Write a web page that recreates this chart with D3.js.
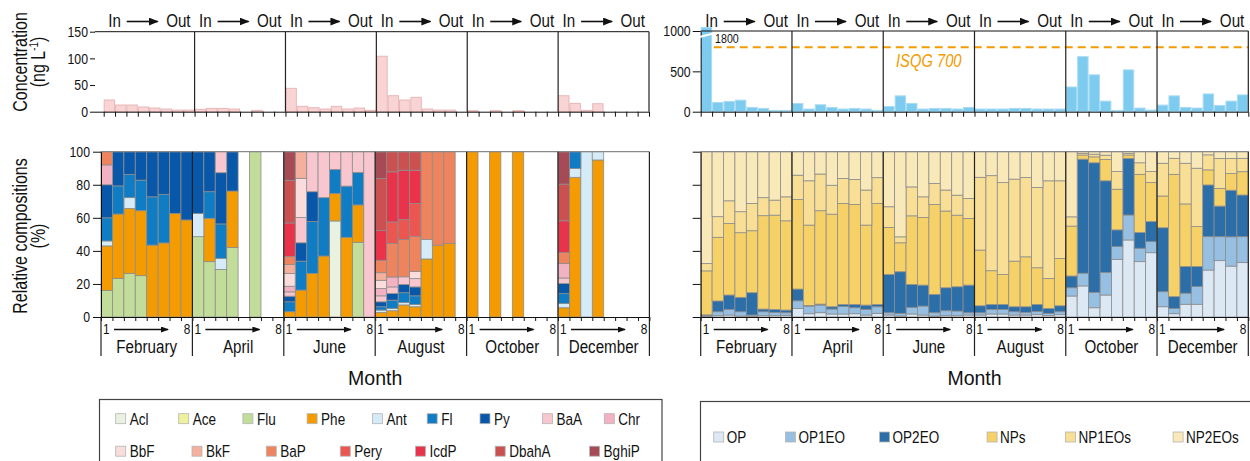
<!DOCTYPE html>
<html>
<head>
<meta charset="utf-8">
<script src="https://cdn.jsdelivr.net/npm/d3@7"></script>
<style>
  body { margin: 0; background: #fff; }
  svg text { font-family: "Liberation Sans", Arial, sans-serif; fill: #111; }
</style>
</head>
<body>
<svg id="chart" width="1250" height="461"></svg>
<script>
// ---- data ----
const months = ["February", "April", "June", "August", "October", "December"];
const sites = [1, 2, 3, 4, 5, 6, 7, 8];

const pahKeys = ["Acl", "Ace", "Flu", "Phe", "Ant", "Fl", "Py", "BaA", "Chr", "BbF", "BkF", "BaP", "Pery", "IcdP", "DbahA", "BghiP"];
const pahColors = ["#e9f2e1", "#eef29c", "#c2dc9a", "#f39b00", "#d5ecf8", "#0f7cc4", "#0857a8", "#f8c6ce", "#f3b2c3",
                   "#fbdcdc", "#f4b09c", "#ee845e", "#ec5650", "#e8334a", "#cb5150", "#a64b55"];
const opKeys = ["OP", "OP1EO", "OP2EO", "NPs", "NP1EOs", "NP2EOs"];
const opColors = ["#dce8f4", "#97bfe1", "#2b6ea8", "#f6d168", "#f8df95", "#f9e9b9"];

// PAH concentration, ng/L (one row per month, sites 1..8)
const pahConc = [
  [22, 12.5, 12.5, 8.8, 6.9, 5, 3, 3],
  [4.4, 6.2, 6.2, 5, 0, 2.5, 0, 0],
  [43.8, 10, 7.5, 5, 10, 5, 6.9, 2.5],
  [104, 30, 21.9, 26.9, 5, 3, 3, 0],
  [1.9, 0, 1.9, 0, 1.9, 0, 0, 0],
  [30, 15.6, 2.5, 15, 0, 0, 0, 0]
];
// alkylphenol concentration, ng/L
const apConc = [
  [1800, 114, 127, 143, 53, 41, 16, 16],
  [102, 33, 86, 53, 33, 41, 33, 16],
  [65, 196, 102, 33, 41, 41, 33, 53],
  [33, 33, 33, 41, 41, 33, 33, 33],
  [306, 682, 457, 131, 16, 518, 45, 20],
  [82, 196, 53, 45, 220, 78, 131, 208]
];
const isqg = 800;

// PAH composition, %
const pahFeb = [
  {Flu: 16, Phe: 27, Ant: 3, Fl: 14, Py: 20, Chr: 12, BaP: 8},
  {Flu: 23.4, Phe: 38.9, Fl: 17, Py: 20.7},
  {Flu: 26.4, Phe: 39.3, Ant: 6.5, Fl: 14.1, Py: 13.7},
  {Flu: 25, Phe: 39.3, Fl: 18.5, Py: 17.2},
  {Phe: 43.5, Fl: 29.2, Py: 27.3},
  {Phe: 44.8, Fl: 29.4, Py: 25.8},
  {Phe: 62.7, Py: 37.3},
  {Phe: 58.7, Py: 41.3}
];
const pahApr = [
  {Flu: 48.6, Ant: 14.1, Py: 37.3},
  {Flu: 33.5, Phe: 26.2, Fl: 16.1, Py: 24.2},
  {Flu: 28.8, Ant: 6.7, Fl: 20.8, Py: 31, BaA: 12.7},
  {Flu: 42.1, Phe: 34.1, Py: 23.8},
  {},
  {Flu: 100},
  {},
  {}
];
const pahJun = [
  {Phe: 3.2, Fl: 6, Py: 3.4, BaA: 2.6, Chr: 3.4, BbF: 7.7, BkF: 5.4, BaP: 5, IcdP: 20.2, DbahA: 25.8, BghiP: 17.3},
  {Phe: 16.3, Fl: 17.5, Py: 11.1, BaA: 15.3, BbF: 23.7, BkF: 16.1},
  {Phe: 26.4, Fl: 31.3, Py: 18.1, BaA: 24.2},
  {Phe: 36.9, Fl: 35.3, BaA: 27.8},
  {Acl: 58.1, Phe: 16.7, Fl: 14.5, BaA: 10.7},
  {Phe: 48.2, Fl: 31, BaA: 20.8},
  {Flu: 45.2, Phe: 22.6, Fl: 19.7, BaA: 12.5},
  {BaA: 100}
];
const pahAug = [
  {Phe: 2.8, Ant: 1.4, Fl: 2, Py: 3, BaA: 3.6, Chr: 4.4, BbF: 5, BkF: 4.6, BaP: 7.5, IcdP: 18.1, DbahA: 31.4, BghiP: 16.2},
  {Phe: 3.8, Ant: 1.4, Fl: 5, Py: 4, BaA: 4, Chr: 6, BaP: 20.2, Pery: 13.1, IcdP: 30.3, DbahA: 12.2},
  {Phe: 7.3, Ant: 1.4, Fl: 6, Py: 5, BaA: 4.6, BaP: 22.6, Pery: 12.1, IcdP: 29.8, DbahA: 11.2},
  {Phe: 6.2, Ant: 1.4, Fl: 5.2, Py: 5.4, BaA: 5, BbF: 4.4, BaP: 21.2, Pery: 19.8, IcdP: 20.2, DbahA: 11.2},
  {Phe: 35.1, Ant: 11.9, BaP: 53},
  {Phe: 43.5, BaP: 56.5},
  {Phe: 44.4, BaP: 55.6},
  {}
];
const pahOct = [{Phe: 100}, {}, {Phe: 100}, {}, {Phe: 100}, {}, {}, {}];
const pahDec = [
  {Phe: 5.6, Ant: 2.6, Fl: 6, Py: 6, BaA: 3.4, Chr: 8.7, BaP: 6.7, IcdP: 19.2, DbahA: 22.2, BghiP: 19.6},
  {Phe: 84.5, Ant: 5.4, Fl: 10.1},
  {Ant: 100},
  {Phe: 95, Ant: 5},
  {}, {}, {}, {}
];

// alkylphenol composition, % in opKeys order
const apFeb = [
  [0.5, 0.5, 0.3, 26.6, 4.4, 67.7], [0.8, 2.4, 6.5, 38.5, 12.5, 39.3], [1.2, 3.4, 8.7, 43.3, 13.7, 29.7],
  [0.6, 2.6, 8.7, 39.1, 12.7, 36.3], [0.4, 0.8, 13.5, 37.5, 16.5, 31.3], [0.8, 2.4, 1.6, 56.5, 10.9, 27.8],
  [0.8, 2, 1.8, 57, 9.1, 29.3], [1, 1.6, 1.6, 54, 14.5, 27.3]
];
const apApr = [
  [5.2, 4.6, 7.1, 54.2, 14.7, 14.2], [2, 4.6, 0.4, 48.6, 26.8, 17.6], [2.6, 4.6, 0.6, 56.5, 22.2, 13.5],
  [1.8, 3, 1.4, 56, 17.5, 20.3], [1.8, 4.6, 1.2, 61.1, 15.1, 16.2], [2, 3.6, 2, 60.5, 15.1, 16.8],
  [1.2, 3.4, 2.6, 48.4, 21.2, 23.2], [2.2, 4, 1.4, 61, 15.7, 15.7]
];
const apJun = [
  [1.2, 1.4, 23.2, 28.4, 12.5, 33.3], [0.6, 1.6, 25.2, 17.5, 3.6, 51.5], [1.8, 4, 13.9, 41.5, 17.5, 21.3],
  [1.2, 5.4, 12.7, 40.9, 12.5, 27.3], [0.6, 2, 11.1, 54.4, 12.7, 19.2], [0.8, 3, 13.9, 46.4, 12.7, 23.2],
  [0.8, 2.8, 14.7, 43.3, 12.1, 26.3], [1.2, 1.4, 16.7, 40.3, 12.1, 28.3]
];
const apAug = [
  [1.2, 1.4, 4.2, 33.7, 44, 15.5], [1.8, 2.8, 3, 20.4, 57.5, 14.5], [1.8, 2.8, 3, 18.1, 55.6, 18.7],
  [1.2, 2, 3, 27.6, 49.6, 16.6], [1.2, 1.6, 3.4, 30.2, 48, 15.6], [1.4, 2, 4.2, 22.2, 48.6, 21.6],
  [0.8, 1.4, 3, 18.1, 59.1, 17.6], [1.4, 1.8, 3.6, 28.6, 47, 17.6]
];
const apOct = [
  [12.7, 5, 7.1, 30.2, 5.6, 39.4], [18.8, 7.7, 69, 2.5, 1, 1], [5.6, 9.3, 78.4, 3.6, 1.6, 1.5],
  [13.3, 13.7, 55.4, 12.9, 2.6, 2.1], [34.9, 7.7, 10.1, 24.6, 10.7, 12], [46.6, 15.1, 34.3, 2, 1, 1],
  [33.5, 8.1, 9.5, 35.2, 7, 6.7], [38.9, 6.7, 12.1, 23.6, 6.7, 12]
];
const apDec = [
  [6.2, 9.1, 38.7, 19.2, 19.8, 7], [2, 3.2, 7.1, 74, 9.7, 4], [7.7, 6.7, 16.1, 37.9, 24.6, 7],
  [7.7, 10.7, 12.1, 24.2, 35.3, 10], [28.4, 20.2, 31.3, 9.1, 9.1, 1.9], [34.1, 14.5, 18.5, 10.7, 18.1, 4.1],
  [30.8, 17.7, 28.2, 10.1, 9.1, 4.1], [32.9, 15.7, 25.2, 14.1, 8.1, 4]
];

const pahComp = [pahFeb, pahApr, pahJun, pahAug, pahOct, pahDec];
const apComp = [apFeb, apApr, apJun, apAug, apOct, apDec];

// ---- layout ----
const svg = d3.select("#chart");
const ids = months.flatMap(m => sites.map(s => m + s));

const yTopL = d3.scaleLinear().domain([0, 150]).range([111.7, 31.7]);
const yTopR = d3.scaleLinear().domain([0, 1000]).range([111.7, 31]);
const yBot = d3.scaleLinear().domain([0, 100]).range([317, 151.7]);

const defs = svg.append("defs");
defs.append("marker").attr("id", "headBig").attr("markerUnits", "userSpaceOnUse")
  .attr("markerWidth", 10).attr("markerHeight", 8).attr("refX", 9).attr("refY", 4).attr("orient", "auto")
  .append("path").attr("d", "M0,0 L10,4 L0,8 Z").attr("fill", "#111");
defs.append("marker").attr("id", "headSmall").attr("markerUnits", "userSpaceOnUse")
  .attr("markerWidth", 8).attr("markerHeight", 6).attr("refX", 7).attr("refY", 3).attr("orient", "auto")
  .append("path").attr("d", "M0,0 L8,3 L0,6 Z").attr("fill", "#111");

function styleAxis(g, size) {
  g.selectAll(".tick line").attr("stroke", "#111");
  g.selectAll(".tick text").attr("font-size", size || 14.5).attr("fill", "#111");
  g.select(".domain").attr("stroke", "#111");
}

// concentration panel with In -> Out headers
function topPanel(conc, x0, x1, axisX, y, fill, stroke) {
  const x = d3.scaleBand().domain(ids).range([x0, x1]);
  const xm = d3.scaleBand().domain(months).range([x0, x1]);
  const cap = y.domain()[1] * 1.045;
  const rows = months.flatMap((m, i) => sites.map((s, j) => ({id: m + s, v: conc[i][j]})));
  const g = svg.append("g");

  g.selectAll("rect").data(rows.filter(d => d.v > 0)).join("rect")
    .attr("x", d => x(d.id) + 0.5).attr("width", x.bandwidth() - 1)
    .attr("y", d => y(Math.min(d.v, cap)))
    .attr("height", d => y(0) - y(Math.min(d.v, cap)))
    .attr("fill", fill).attr("stroke", stroke).attr("stroke-width", 1);

  // frame
  g.append("line").attr("x1", axisX).attr("x2", x1).attr("y1", y.range()[1]).attr("y2", y.range()[1])
    .attr("stroke", "#111");
  g.selectAll("line.div").data(months.slice(1).concat(["end"])).join("line").attr("class", "div")
    .attr("x1", d => d === "end" ? x1 : xm(d)).attr("x2", d => d === "end" ? x1 : xm(d))
    .attr("y1", y.range()[1]).attr("y2", y(0)).attr("stroke", "#222").attr("stroke-width", 1.2);

  const xi = d3.scaleLinear().domain([0, ids.length]).range([x0, x1]);
  g.append("g").attr("transform", `translate(0,${y(0)})`)
    .call(d3.axisBottom(xi).tickValues(d3.range(0, ids.length + 1)).tickSize(5).tickSizeOuter(0).tickFormat(""))
    .call(a => a.select(".domain").attr("d", `M${axisX},0.5H${x1}`))
    .call(a => styleAxis(a));

  // headers
  const h = g.selectAll("g.hdr").data(months).join("g").attr("class", "hdr")
    .attr("transform", d => `translate(${xm(d)},0)`);
  h.append("text").attr("x", 4.5).attr("y", 27).attr("font-size", 18.5).text("In");
  h.append("text").attr("x", xm.bandwidth() - 4).attr("y", 27).attr("font-size", 18.5)
    .attr("text-anchor", "end").text("Out");
  h.append("line").attr("x1", 23).attr("x2", 54).attr("y1", 21.5).attr("y2", 21.5)
    .attr("stroke", "#111").attr("stroke-width", 1.6).attr("marker-end", "url(#headBig)");
  return {x, g};
}

// composition panel
function bottomPanel(comp, keys, colors, x0, x1) {
  const rows = months.flatMap((m, i) => sites.map((s, j) => {
    const c = comp[i][j];
    const r = {id: m + s};
    keys.forEach((k, n) => { r[k] = Array.isArray(c) ? c[n] : (c[k] || 0); });
    return r;
  }));
  const x = d3.scaleBand().domain(ids).range([x0, x1]);
  const xm = d3.scaleBand().domain(months).range([x0, x1]);
  const color = d3.scaleOrdinal(keys, colors);
  const series = d3.stack().keys(keys)(rows);
  const g = svg.append("g");

  g.selectAll("g.layer").data(series).join("g").attr("class", "layer")
    .attr("fill", d => color(d.key))
    .selectAll("rect").data(d => d.filter(p => p[1] - p[0] > 0.05)).join("rect")
    .attr("x", p => x(p.data.id)).attr("width", x.bandwidth())
    .attr("y", p => yBot(p[1])).attr("height", p => yBot(p[0]) - yBot(p[1]))
    .attr("stroke", "#8d8d8d").attr("stroke-width", 0.8);

  // frame
  g.append("line").attr("x1", x0).attr("x2", x1).attr("y1", yBot(100)).attr("y2", yBot(100))
    .attr("stroke", "#8a8a8a").attr("stroke-width", 1.2);
  g.selectAll("line.div").data(months.slice(1).concat(["end"])).join("line").attr("class", "div")
    .attr("x1", d => d === "end" ? x1 : xm(d)).attr("x2", d => d === "end" ? x1 : xm(d))
    .attr("y1", yBot(100)).attr("y2", yBot(0)).attr("stroke", "#222").attr("stroke-width", 1.2);

  const xi = d3.scaleLinear().domain([0, ids.length]).range([x0, x1]);
  g.append("g").attr("transform", `translate(0,${yBot(0)})`)
    .call(d3.axisBottom(xi).tickValues(d3.range(0, ids.length + 1)).tickSize(4).tickSizeOuter(0).tickFormat(""))
    .call(a => styleAxis(a));

  // site numbers, arrows, month names
  const m = g.selectAll("g.mon").data(months).join("g").attr("class", "mon")
    .attr("transform", d => `translate(${xm(d)},0)`);
  m.append("text").attr("x", 2).attr("y", 334).attr("font-size", 14.5).text(sites[0]);
  m.append("text").attr("x", xm.bandwidth() - 2).attr("y", 334).attr("font-size", 14.5)
    .attr("text-anchor", "end").text(sites[sites.length - 1]);
  m.append("line").attr("x1", 13).attr("x2", 67).attr("y1", 329.5).attr("y2", 329.5)
    .attr("stroke", "#111").attr("stroke-width", 1.3).attr("marker-end", "url(#headSmall)");
  m.append("text").attr("x", xm.bandwidth() / 2).attr("y", 353).attr("font-size", 18.5)
    .attr("text-anchor", "middle").text(d => d);
  g.selectAll("line.sep").data(months.concat(["end"])).join("line").attr("class", "sep")
    .attr("x1", d => d === "end" ? x1 : xm(d)).attr("x2", d => d === "end" ? x1 : xm(d))
    .attr("y1", 317).attr("y2", 356).attr("stroke", "#222").attr("stroke-width", 1.2);

  g.append("text").attr("class", "wide").attr("x", (x0 + x1) / 2).attr("y", 385).attr("font-size", 19.5)
    .attr("text-anchor", "middle").text("Month");
  return g;
}

// ---- left: PAHs ----
const LX0 = 101, LX1 = 649.4, LTX0 = 103.7, LTX1 = 649;
const RX0 = 700.7, RX1 = 1248.3;

topPanel(pahConc, LTX0, LTX1, 95, yTopL, "#f9d4d4", "#e9b7b7");
svg.append("g").attr("transform", "translate(95,0)")
  .call(d3.axisLeft(yTopL).tickValues([0, 50, 100, 150]).tickSize(5).tickPadding(2))
  .call(a => a.select(".domain").remove())
  .call(a => styleAxis(a, 15));

// ---- right: alkylphenols ----
svg.append("line").attr("x1", RX0).attr("x2", RX1).attr("y1", yTopR(isqg)).attr("y2", yTopR(isqg))
  .attr("stroke", "#f39b00").attr("stroke-width", 2).attr("stroke-dasharray", "8,5");
const tr = topPanel(apConc, RX0, RX1, RX0, yTopR, "#7dcbef", "#a9dbf3");
svg.append("g").attr("transform", `translate(${RX0},0)`)
  .call(d3.axisLeft(yTopR).tickValues([0, 500, 1000]).tickFormat(d3.format("d")).tickSize(8).tickPadding(2).tickSizeOuter(0))
  .call(a => styleAxis(a, 15));
// axis break on the 1800 bar
const bx = tr.x(months[0] + sites[0]);
svg.append("line").attr("x1", bx - 1).attr("x2", bx + tr.x.bandwidth() + 1)
  .attr("y1", yTopR(1000) + 6).attr("y2", yTopR(1000) + 2.5)
  .attr("stroke", "#fff").attr("stroke-width", 2.2);
svg.append("text").attr("x", bx + tr.x.bandwidth() + 3).attr("y", yTopR(1000) + 12)
  .attr("font-size", 13).text(apConc[0][0]);
svg.append("text").attr("x", 896).attr("y", 67).attr("font-size", 18).attr("font-style", "italic")
  .style("fill", "#f39b00").text("ISQG 700");

// ---- bottom panels ----
bottomPanel(pahComp, pahKeys, pahColors, LX0, LX1);
svg.append("g").attr("transform", `translate(${LX0},0)`)
  .call(d3.axisLeft(yBot).tickValues([0, 20, 40, 60, 80, 100]).tickSize(8).tickPadding(3).tickSizeOuter(0))
  .call(a => styleAxis(a, 15));

bottomPanel(apComp, opKeys, opColors, RX0, RX1);
svg.append("g").attr("transform", `translate(${RX0},0)`)
  .call(d3.axisLeft(yBot).tickValues([0, 20, 40, 60, 80, 100]).tickSize(8).tickSizeOuter(0).tickFormat(""))
  .call(a => styleAxis(a));

// ---- y titles ----
function yTitle(first, cy) {
  const t = svg.append("g");
  t.append("text").attr("transform", `translate(27,${cy}) rotate(-90)`).attr("text-anchor", "middle")
    .attr("font-size", 19.5).text(first);
  return t.append("text").attr("transform", `translate(44.5,${cy}) rotate(-90)`).attr("text-anchor", "middle")
    .attr("font-size", 19.5);
}
const c2 = yTitle("Concentration", 62);
c2.append("tspan").text("(ng L");
c2.append("tspan").attr("font-size", 12).attr("dy", -7).text("-1");
c2.append("tspan").attr("dy", 7).text(")");
yTitle("Relative compositions", 236).text("(%)");

// ---- legends ----
const legL = [
  [115.7, 418.7], [178.7, 418.7], [242.9, 418.7], [307.1, 418.7], [372.4, 418.7], [427.2, 418.7], [480, 418.7],
  [542.4, 418.7], [604.3, 418.7], [115.7, 451.2], [192, 451.2], [266.3, 451.2], [340.3, 451.2], [415.5, 451.2],
  [495.2, 451.2], [589.6, 451.2]
];
const legR = [713.7, 785.5, 879.6, 987.1, 1065.5, 1173.1];

svg.append("rect").attr("x", 99.5).attr("y", 399.5).attr("width", 562.5).attr("height", 80)
  .attr("fill", "none").attr("stroke", "#444").attr("stroke-width", 1.2);
svg.append("rect").attr("x", 700.5).attr("y", 401.5).attr("width", 560).attr("height", 80)
  .attr("fill", "none").attr("stroke", "#444").attr("stroke-width", 1.2);

const li = svg.append("g").selectAll("g").data(pahKeys).join("g")
  .attr("transform", (d, i) => `translate(${legL[i][0]},${legL[i][1]})`);
li.append("rect").attr("x", 0).attr("y", -5).attr("width", 10).attr("height", 10)
  .attr("fill", (d, i) => pahColors[i]).attr("stroke", "#b5b5b5").attr("stroke-width", 0.8);
li.append("text").attr("x", 14).attr("y", 6).attr("font-size", 16.5).text(d => d);

const ri = svg.append("g").selectAll("g").data(opKeys).join("g")
  .attr("transform", (d, i) => `translate(${legR[i]},437)`);
ri.append("rect").attr("x", 0).attr("y", -5).attr("width", 10).attr("height", 10)
  .attr("fill", (d, i) => opColors[i]).attr("stroke", "#b5b5b5").attr("stroke-width", 0.8);
ri.append("text").attr("x", 13).attr("y", 6).attr("font-size", 16.5).text(d => d);

// the source uses a narrow typeface: squeeze each label horizontally about its own anchor point
svg.selectAll("text:not(.wide)").each(function () {
  const t = d3.select(this);
  const x = +t.attr("x") || 0, y = +t.attr("y") || 0;
  const rotated = /rotate/.test(t.attr("transform") || "");
  const base = t.attr("transform") || "";
  t.attr("transform", `${base} translate(${x},${y}) scale(0.82,1) translate(${-x},${-y})`);
});
</script>
</body>
</html>
